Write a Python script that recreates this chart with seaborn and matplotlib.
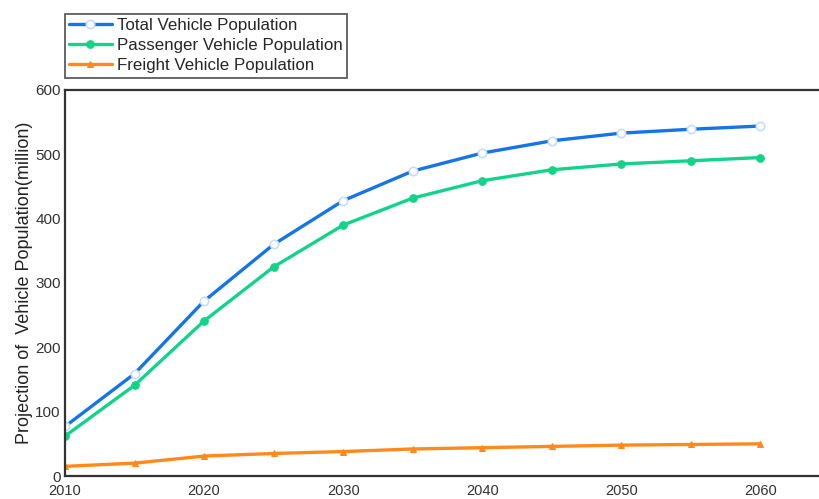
import numpy as np
import pandas as pd
import matplotlib
matplotlib.use("Agg")
import matplotlib.pyplot as plt
import seaborn as sns

years = [2010, 2015, 2020, 2025, 2030, 2035, 2040, 2045, 2050, 2055, 2060]
total = [77, 159, 272, 360, 428, 474, 502, 521, 533, 539, 544]
passenger = [62, 141, 241, 325, 390, 432, 459, 476, 485, 490, 495]
freight = [15, 20, 31, 35, 38, 42, 44, 46, 48, 49, 50]

series_names = ["Total Vehicle Population",
                "Passenger Vehicle Population",
                "Freight Vehicle Population"]
x_ticks = [2010, 2020, 2030, 2040, 2050, 2060]
y_ticks = [0, 100, 200, 300, 400, 500, 600]

df = pd.DataFrame({
    "year": years * 3,
    "value": total + passenger + freight,
    "series": [series_names[0]] * len(years)
              + [series_names[1]] * len(years)
              + [series_names[2]] * len(years),
})

sns.set_theme(style="white")
plt.rcParams["font.family"] = ["Liberation Sans", "DejaVu Sans"]

fig = plt.figure(figsize=(8.19, 4.99), dpi=100)
ax = fig.add_axes([65 / 819, 1 - 476 / 499, 765 / 819, (476 - 90) / 499])

colors = ["#1574e6", "#12d38a", "#ff8a1c"]
styles = [
    dict(marker="o", markersize=6, markerfacecolor="white",
         markeredgecolor="#c9dcf7", markeredgewidth=1.2),
    dict(marker="o", markersize=5.5, markerfacecolor="#12d38a",
         markeredgecolor="#12d38a"),
    dict(marker="^", markersize=5, markerfacecolor="#ff8a1c",
         markeredgecolor="#ff8a1c"),
]

for name, c, st in zip(series_names, colors, styles):
    sub = df[df["series"] == name]
    sns.lineplot(data=sub, x="year", y="value", ax=ax, color=c,
                 linewidth=2.4, label=name, **st)
ax.get_legend().remove()
handles, labels = ax.get_legend_handles_labels()

ax.set_xlim(2010, 2065)
ax.set_ylim(0, 600)
ax.set_xticks(x_ticks)
ax.set_yticks(y_ticks)
ax.set_xlabel("")
ax.set_ylabel("Projection of  Vehicle Population(million)", fontsize=13,
              color="#222222", labelpad=2)

for side in ["left", "bottom", "top"]:
    ax.spines[side].set_color("#333333")
    ax.spines[side].set_linewidth(1.6)
ax.spines["right"].set_visible(False)

ax.tick_params(axis="both", direction="in", length=4, width=1.2,
               colors="#333333", labelcolor="#333333")
ax.tick_params(axis="x", pad=5.5, labelsize=10.5)
ax.tick_params(axis="y", pad=3, labelsize=11)

leg = fig.legend(handles, labels, loc="upper left",
                 bbox_to_anchor=(65 / 819, 1 - 14 / 499),
                 frameon=True, fontsize=12.2, handlelength=2.5,
                 handletextpad=0.3, labelspacing=0.3,
                 borderpad=0.25, borderaxespad=0.0, fancybox=False)
leg.get_frame().set_edgecolor("#333333")
leg.get_frame().set_linewidth(1.3)

fig.savefig("out.png", dpi=100)
